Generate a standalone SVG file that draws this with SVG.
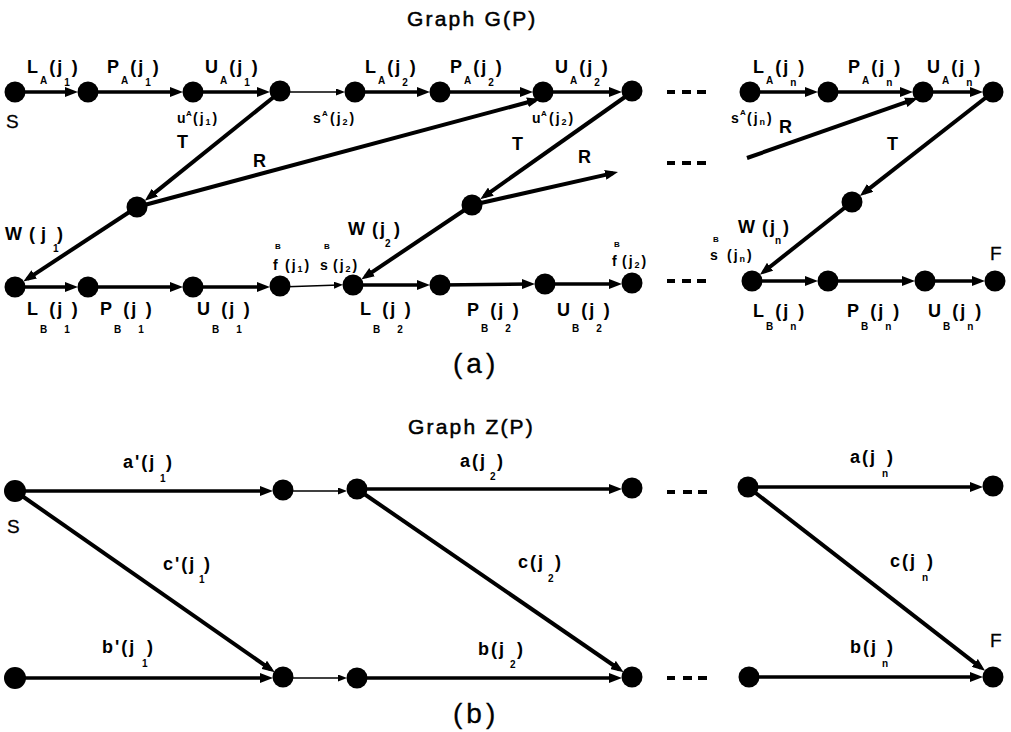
<svg xmlns="http://www.w3.org/2000/svg" width="1011" height="732" viewBox="0 0 1011 732">
<style>
.n{fill:#000}
.k{stroke:#000;stroke-width:3.5;fill:none;marker-end:url(#ah)}
.d{stroke:#000;stroke-width:4;fill:none;marker-end:url(#ah)}
.t{stroke:#000;stroke-width:1.5;fill:none;marker-end:url(#as)}
.r{stroke:#000;stroke-width:4;fill:none}
text{font-family:"Liberation Sans",Arial,sans-serif;fill:#000}
.e{font-size:18px;font-weight:bold;letter-spacing:2px}
.s{font-size:10px}
.m{font-size:14px;font-weight:bold;letter-spacing:2px}
.p{font-size:8px}
.q{font-size:9px}
.g{font-size:21px;letter-spacing:2.2px;stroke:#000;stroke-width:0.5px}
.h{font-size:19px;stroke:#000;stroke-width:0.3px}
.c{font-size:28px;letter-spacing:4px;stroke:#000;stroke-width:0.3px}
</style>
<defs>
<marker id="ah" viewBox="0 0 13 10" refX="8" refY="5" markerWidth="13" markerHeight="10" markerUnits="userSpaceOnUse" orient="auto"><path d="M0,0L13,5L0,10z" fill="#000"/></marker>
<marker id="as" viewBox="0 0 9 7" refX="5" refY="3.5" markerWidth="9" markerHeight="7" markerUnits="userSpaceOnUse" orient="auto"><path d="M0,0L9,3.5L0,7z" fill="#000"/></marker>
</defs>
<rect width="1011" height="732" fill="#fff"/>
<g id="connectors">
<path class="k" d="M15,92H73"/>
<path class="k" d="M88,92H178"/>
<path class="k" d="M193,92H265"/>
<path class="t" d="M280,92H341"/>
<path class="k" d="M355,92H425"/>
<path class="k" d="M440,92H528"/>
<path class="k" d="M543,92H617"/>
<path class="k" d="M750,92H813"/>
<path class="k" d="M828,92H908"/>
<path class="k" d="M923,92H978"/>
<path class="k" d="M15,287H73"/>
<path class="k" d="M88,287H178"/>
<path class="k" d="M193,287H265"/>
<path class="t" d="M280,287L339,285"/>
<path class="k" d="M353,285H425"/>
<path class="k" d="M440,285L530,284"/>
<path class="k" d="M545,284H617"/>
<path class="k" d="M752,281H813"/>
<path class="k" d="M828,281H910"/>
<path class="k" d="M925,281H980"/>
<path class="d" d="M280,92L148.7,197.6"/>
<path class="d" d="M137,207L535.2,100.3"/>
<path class="d" d="M137,207L27.5,278.8"/>
<path class="d" d="M632,92L484.3,196.3"/>
<path class="d" d="M472,205L613.1,173.1"/>
<path class="d" d="M472,205L365.4,276.6"/>
<path class="d" d="M747,158L913.3,99.7"/>
<path class="d" d="M993,92L863.8,192.8"/>
<path class="d" d="M852,202L763.8,271.7"/>
<path class="k" d="M15,491H268"/>
<path class="t" d="M283,491H343"/>
<path class="k" d="M357,489H617"/>
<path class="k" d="M748,487H978"/>
<path class="k" d="M15,678H268"/>
<path class="t" d="M283,678H343"/>
<path class="k" d="M357,678H617"/>
<path class="k" d="M749,677H978"/>
<path class="d" d="M15,491L270.7,669.4"/>
<path class="d" d="M357,489L619.6,669.5"/>
<path class="d" d="M748,487L981.1,667.8"/>
<path class="r" d="M667,92h8M682,92h9M697,92h9M667,163h8M682,163h9M697,163h9M667,281h8M682,281h9M697,281h9M667,492h8M683,492h9M698,492h9M667,678h8M683,678h9M698,678h9"/>
</g>
<g id="a-top-1"><circle class="n" cx="15" cy="92" r="10.5"/></g>
<g id="a-top-2"><circle class="n" cx="88" cy="92" r="10.5"/></g>
<g id="a-top-3"><circle class="n" cx="193" cy="92" r="10.5"/></g>
<g id="a-top-4"><circle class="n" cx="280" cy="91" r="10.5"/></g>
<g id="a-top-5"><circle class="n" cx="355" cy="92" r="10.5"/></g>
<g id="a-top-6"><circle class="n" cx="440" cy="92" r="10.5"/></g>
<g id="a-top-7"><circle class="n" cx="543" cy="92" r="10.5"/></g>
<g id="a-top-8"><circle class="n" cx="632" cy="91" r="10.5"/></g>
<g id="a-top-9"><circle class="n" cx="750" cy="92" r="10.5"/></g>
<g id="a-top-10"><circle class="n" cx="828" cy="92" r="10.5"/></g>
<g id="a-top-11"><circle class="n" cx="923" cy="92" r="10.5"/></g>
<g id="a-top-12"><circle class="n" cx="993" cy="92" r="10.5"/></g>
<g id="a-mid-1"><circle class="n" cx="137" cy="207" r="10.5"/></g>
<g id="a-mid-2"><circle class="n" cx="472" cy="205" r="10.5"/></g>
<g id="a-mid-3"><circle class="n" cx="852" cy="202" r="10.5"/></g>
<g id="a-bot-1"><circle class="n" cx="15" cy="287" r="10.5"/></g>
<g id="a-bot-2"><circle class="n" cx="88" cy="287" r="10.5"/></g>
<g id="a-bot-3"><circle class="n" cx="193" cy="287" r="10.5"/></g>
<g id="a-bot-4"><circle class="n" cx="280" cy="286" r="10.5"/></g>
<g id="a-bot-5"><circle class="n" cx="353" cy="285" r="10.5"/></g>
<g id="a-bot-6"><circle class="n" cx="440" cy="285" r="10.5"/></g>
<g id="a-bot-7"><circle class="n" cx="545" cy="284" r="10.5"/></g>
<g id="a-bot-8"><circle class="n" cx="632" cy="283" r="10.5"/></g>
<g id="a-bot-9"><circle class="n" cx="752" cy="281" r="10.5"/></g>
<g id="a-bot-10"><circle class="n" cx="828" cy="281" r="10.5"/></g>
<g id="a-bot-11"><circle class="n" cx="925" cy="281" r="10.5"/></g>
<g id="a-bot-12"><circle class="n" cx="995" cy="281" r="10.5"/></g>
<g id="b-top-1"><circle class="n" cx="15" cy="491" r="11"/></g>
<g id="b-top-2"><circle class="n" cx="283" cy="490" r="10.5"/></g>
<g id="b-top-3"><circle class="n" cx="357" cy="489" r="10.5"/></g>
<g id="b-top-4"><circle class="n" cx="632" cy="488" r="10.5"/></g>
<g id="b-top-5"><circle class="n" cx="748" cy="487" r="10.5"/></g>
<g id="b-top-6"><circle class="n" cx="993" cy="486" r="10.5"/></g>
<g id="b-bot-1"><circle class="n" cx="15" cy="678" r="11"/></g>
<g id="b-bot-2"><circle class="n" cx="283" cy="677" r="10.5"/></g>
<g id="b-bot-3"><circle class="n" cx="357" cy="678" r="10.5"/></g>
<g id="b-bot-4"><circle class="n" cx="632" cy="677" r="10.5"/></g>
<g id="b-bot-5"><circle class="n" cx="749" cy="677" r="10.5"/></g>
<g id="b-bot-6"><circle class="n" cx="993" cy="677" r="10.5"/></g>
<g id="labels">
<text class="g" x="407" y="26">Graph G(P)</text>
<text class="h" x="6" y="128">S</text>
<text class="h" x="990" y="260">F</text>
<text class="c" x="453" y="373">(a)</text>
<text class="e" x="27" y="73">L<tspan class="s" dy="11">A</tspan><tspan dy="-11">(j</tspan><tspan class="s" dy="13">1</tspan><tspan dy="-13">)</tspan></text>
<text class="e" x="107" y="73">P<tspan class="s" dy="11">A</tspan><tspan dy="-11">(j</tspan><tspan class="s" dy="13">1</tspan><tspan dy="-13">)</tspan></text>
<text class="e" x="205" y="73">U<tspan class="s" dy="11">A</tspan><tspan dy="-11">(j</tspan><tspan class="s" dy="13">1</tspan><tspan dy="-13">)</tspan></text>
<text class="e" x="365" y="73">L<tspan class="s" dy="11">A</tspan><tspan dy="-11">(j</tspan><tspan class="s" dy="13">2</tspan><tspan dy="-13">)</tspan></text>
<text class="e" x="450" y="73">P<tspan class="s" dy="11">A</tspan><tspan dy="-11">(j</tspan><tspan class="s" dy="13">2</tspan><tspan dy="-13">)</tspan></text>
<text class="e" x="555" y="73">U<tspan class="s" dy="11">A</tspan><tspan dy="-11">(j</tspan><tspan class="s" dy="13">2</tspan><tspan dy="-13">)</tspan></text>
<text class="e" x="753" y="73">L<tspan class="s" dy="11">A</tspan><tspan dy="-11">(j</tspan><tspan class="s" dy="13">n</tspan><tspan dy="-13">)</tspan></text>
<text class="e" x="848" y="73">P<tspan class="s" dy="11">A</tspan><tspan dy="-11">(j</tspan><tspan class="s" dy="13">n</tspan><tspan dy="-13">)</tspan></text>
<text class="e" x="927" y="73">U<tspan class="s" dy="11">A</tspan><tspan dy="-11">(j</tspan><tspan class="s" dy="13">n</tspan><tspan dy="-13">)</tspan></text>
<text class="m" x="177" y="123">u<tspan class="p" x="186" dy="-7">A</tspan><tspan x="193" dy="7">(j</tspan><tspan class="q" dy="2">1</tspan><tspan dy="-2">)</tspan></text>
<text class="m" x="313" y="123">s<tspan class="p" x="322" dy="-7">A</tspan><tspan x="330" dy="7">(j</tspan><tspan class="q" dy="2">2</tspan><tspan dy="-2">)</tspan></text>
<text class="m" x="532" y="123">u<tspan class="p" x="541" dy="-7">A</tspan><tspan x="549" dy="7">(j</tspan><tspan class="q" dy="2">2</tspan><tspan dy="-2">)</tspan></text>
<text class="m" x="731" y="123">s<tspan class="p" x="740" dy="-8">A</tspan><tspan x="747" dy="8">(j</tspan><tspan class="q" dy="2">n</tspan><tspan dy="-2">)</tspan></text>
<text class="e" x="177" y="148">T</text>
<text class="e" x="253" y="167">R</text>
<text class="e" x="512" y="150">T</text>
<text class="e" x="578" y="163">R</text>
<text class="e" x="779" y="133">R</text>
<text class="e" x="887" y="150">T</text>
<text class="e" x="5" y="240">W<tspan x="29">(</tspan><tspan x="41">j</tspan><tspan class="s" x="53" dy="12">1</tspan><tspan x="57" dy="-12">)</tspan></text>
<text class="e" x="348" y="235">W<tspan x="372">(j</tspan><tspan class="s" x="385" dy="12">2</tspan><tspan x="394" dy="-12">)</tspan></text>
<text class="e" x="738" y="233">W<tspan x="762">(j</tspan><tspan class="s" x="775" dy="11">n</tspan><tspan x="783" dy="-11">)</tspan></text>
<text class="m" x="273" y="270">f<tspan class="p" x="275" dy="-21">B</tspan><tspan x="285" dy="21">(j</tspan><tspan class="q" dy="2">1</tspan><tspan dy="-2">)</tspan></text>
<text class="m" x="320" y="270">s<tspan class="p" x="324" dy="-21">B</tspan><tspan x="333" dy="21">(j</tspan><tspan class="q" dy="2">2</tspan><tspan dy="-2">)</tspan></text>
<text class="m" x="612" y="266">f<tspan class="p" x="614" dy="-19">B</tspan><tspan x="622" dy="19">(j</tspan><tspan class="q" dy="2">2</tspan><tspan dy="-2">)</tspan></text>
<text class="m" x="710" y="260">s<tspan class="p" x="713" dy="-18">B</tspan><tspan x="727" dy="18">(j</tspan><tspan class="q" dy="2">n</tspan><tspan dy="-2">)</tspan></text>
<text class="e" x="27" y="315">L<tspan class="s" dy="18">B</tspan><tspan dy="-18">(j</tspan><tspan class="s" dy="18">1</tspan><tspan dy="-18">)</tspan></text>
<text class="e" x="100" y="315">P<tspan class="s" dy="18">B</tspan><tspan dy="-18">(j</tspan><tspan class="s" dy="18">1</tspan><tspan dy="-18">)</tspan></text>
<text class="e" x="197" y="315">U<tspan class="s" dy="18">B</tspan><tspan dy="-18">(j</tspan><tspan class="s" dy="18">1</tspan><tspan dy="-18">)</tspan></text>
<text class="e" x="360" y="315">L<tspan class="s" dy="18">B</tspan><tspan dy="-18">(j</tspan><tspan class="s" dy="18">2</tspan><tspan dy="-18">)</tspan></text>
<text class="e" x="467" y="316">P<tspan class="s" dy="16">B</tspan><tspan dy="-16">(j</tspan><tspan class="s" dy="16">2</tspan><tspan dy="-16">)</tspan></text>
<text class="e" x="557" y="316">U<tspan class="s" dy="16">B</tspan><tspan dy="-16">(j</tspan><tspan class="s" dy="16">2</tspan><tspan dy="-16">)</tspan></text>
<text class="e" x="753" y="317">L<tspan class="s" dy="13">B</tspan><tspan dy="-13">(j</tspan><tspan class="s" dy="13">n</tspan><tspan dy="-13">)</tspan></text>
<text class="e" x="847" y="317">P<tspan class="s" dy="13">B</tspan><tspan dy="-13">(j</tspan><tspan class="s" dy="13">n</tspan><tspan dy="-13">)</tspan></text>
<text class="e" x="928" y="317">U<tspan class="s" dy="13">B</tspan><tspan dy="-13">(j</tspan><tspan class="s" dy="13">n</tspan><tspan dy="-13">)</tspan></text>
<text class="g" x="408" y="434">Graph Z(P)</text>
<text class="h" x="7" y="533">S</text>
<text class="h" x="990" y="647">F</text>
<text class="c" x="453" y="723">(b)</text>
<text class="e" x="123" y="468">a'(j<tspan class="s" x="160" dy="14">1</tspan><tspan x="166" dy="-14">)</tspan></text>
<text class="e" x="163" y="570">c'(j<tspan class="s" x="199" dy="13">1</tspan><tspan x="204" dy="-13">)</tspan></text>
<text class="e" x="102" y="653">b'(j<tspan class="s" x="142" dy="14">1</tspan><tspan x="147" dy="-14">)</tspan></text>
<text class="e" x="460" y="467">a(j<tspan class="s" x="490" dy="13">2</tspan><tspan x="497" dy="-13">)</tspan></text>
<text class="e" x="518" y="568">c(j<tspan class="s" x="548" dy="14">2</tspan><tspan x="555" dy="-14">)</tspan></text>
<text class="e" x="478" y="655">b(j<tspan class="s" x="510" dy="13">2</tspan><tspan x="517" dy="-13">)</tspan></text>
<text class="e" x="850" y="463">a(j<tspan class="s" x="882" dy="14">n</tspan><tspan x="887" dy="-14">)</tspan></text>
<text class="e" x="890" y="567">c(j<tspan class="s" x="922" dy="14">n</tspan><tspan x="927" dy="-14">)</tspan></text>
<text class="e" x="850" y="653">b(j<tspan class="s" x="882" dy="14">n</tspan><tspan x="887" dy="-14">)</tspan></text>
</g>
</svg>
